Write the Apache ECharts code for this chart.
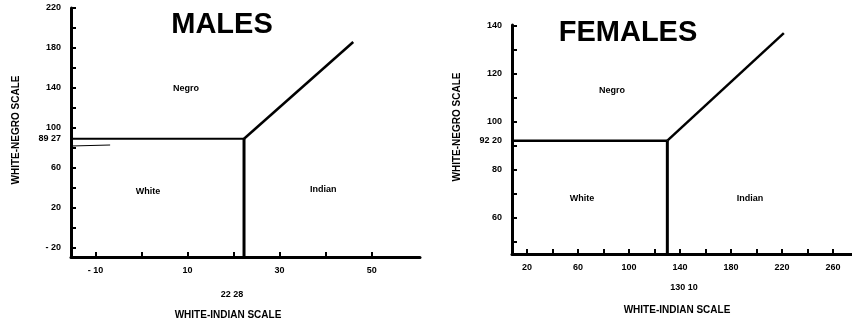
<!DOCTYPE html>
<html>
<head>
<meta charset="utf-8">
<script src="https://cdn.jsdelivr.net/npm/echarts@6/dist/echarts.min.js"></script>
<style>
html, body { margin: 0; padding: 0; background: #fff; }
#main { width: 852px; height: 324px; }
</style>
</head>
<body>
<div id="main"></div>
<script>
// males panel
var maleXTicks = [-10, 0, 10, 20, 30, 40, 50];
var maleXLabels = [-10, 10, 30, 50];
var maleYTicks = [-20, 0, 20, 40, 60, 80, 100, 120, 140, 160, 180, 200, 220];
var maleYLabels = [-20, 20, 60, 100, 140, 180, 220];
var maleCut = [22.28, 89.27];
var maleDiagEnd = [46, 186];
var maleStub = [[-15.3, 82], [-6.8, 83]];
var maleRegions = [['Negro', 9.7, 139], ['White', 1.4, 36], ['Indian', 39.5, 38]];

// females panel
var femaleXTicks = [20, 40, 60, 80, 100, 120, 140, 160, 180, 200, 220, 240, 260];
var femaleXLabels = [20, 60, 100, 140, 180, 220, 260];
var femaleYTicks = [50, 60, 70, 80, 90, 100, 110, 120, 130, 140];
var femaleYLabels = [60, 80, 100, 120, 140];
var femaleCut = [130.10, 92.20];
var femaleDiagEnd = [221.5, 137];
var femaleRegions = [['Negro', 86.6, 113.3], ['White', 63.1, 68.3], ['Indian', 194.9, 68.3]];

var maleRange = { xMin: -15.3, xMax: 60.5, yMin: -29, yMax: 220 };
var femaleRange = { xMin: 8.2, xMax: 275, yMin: 45, yMax: 140.4 };

var FONT = '"Liberation Sans", Arial, sans-serif';

var myChart = echarts.init(document.getElementById('main'));

function fmt(v) {
    if (v === maleCut[0]) return '22 28';
    if (v === maleCut[1]) return '89 27';
    if (v === femaleCut[0]) return '130 10';
    if (v === femaleCut[1]) return '92 20';
    if (v < 0) return '- ' + Math.abs(v);
    return String(v);
}

function makeAxis(type, grid, min, max, ticks, labels) {
    return {
        type: 'value',
        gridIndex: grid,
        min: min,
        max: max,
        axisLine: { show: true, onZero: false, lineStyle: { color: '#000', width: 3 } },
        splitLine: { show: false },
        axisTick: {
            show: true, inside: true, length: 5,
            customValues: ticks,
            lineStyle: { color: '#000', width: 2 }
        },
        axisLabel: {
            customValues: labels,
            formatter: fmt,
            color: '#000',
            fontSize: 9,
            fontWeight: 'bold',
            fontFamily: FONT,
            margin: type === 'x' ? 9 : 10
        }
    };
}

function lineSeries(idx, pts, width) {
    return {
        type: 'line',
        xAxisIndex: idx,
        yAxisIndex: idx,
        data: pts,
        symbol: 'none',
        silent: true,
        animation: false,
        lineStyle: { color: '#000', width: width }
    };
}

function regionSeries(idx, regions) {
    return {
        type: 'scatter',
        xAxisIndex: idx,
        yAxisIndex: idx,
        symbolSize: 0,
        silent: true,
        animation: false,
        itemStyle: { opacity: 1, color: '#000' },
        data: regions.map(function (r) { return { name: r[0], value: [r[1], r[2]] }; }),
        label: {
            show: true, position: 'inside',
            formatter: '{b}',
            color: '#000', opacity: 1, textBorderWidth: 0,
            fontSize: 9, fontWeight: 'bold', fontFamily: FONT
        }
    };
}

function text(x, y, str, size, rotate) {
    return {
        type: 'text',
        x: x, y: y,
        rotation: rotate ? Math.PI / 2 : 0,
        style: {
            text: str, fill: '#000',
            font: 'bold ' + size + 'px ' + FONT,
            align: 'center', verticalAlign: 'middle'
        }
    };
}

var option = {
    backgroundColor: '#fff',
    animation: false,
    grid: [
        { left: 71, top: 8, width: 349, height: 249 },
        { left: 512, top: 25, width: 340, height: 229 }
    ],
    xAxis: [
        makeAxis('x', 0, maleRange.xMin, maleRange.xMax, maleXTicks, maleXLabels),
        makeAxis('x', 1, femaleRange.xMin, femaleRange.xMax, femaleXTicks, femaleXLabels)
    ],
    yAxis: [
        makeAxis('y', 0, maleRange.yMin, maleRange.yMax, maleYTicks, maleYLabels.concat([maleCut[1]])),
        makeAxis('y', 1, femaleRange.yMin, femaleRange.yMax, femaleYTicks, femaleYLabels.concat([femaleCut[1]]))
    ],
    series: [
        lineSeries(0, [[maleRange.xMin, maleCut[1]], maleCut], 2),
        lineSeries(0, [maleCut, [maleCut[0], maleRange.yMin]], 3),
        lineSeries(0, [maleCut, maleDiagEnd], 2.5),
        lineSeries(0, maleStub, 1),
        regionSeries(0, maleRegions),
        lineSeries(1, [[femaleRange.xMin, femaleCut[1]], femaleCut], 2.5),
        lineSeries(1, [femaleCut, [femaleCut[0], femaleRange.yMin]], 3),
        lineSeries(1, [femaleCut, femaleDiagEnd], 2.5),
        regionSeries(1, femaleRegions)
    ],
    graphic: [
        text(222, 25, 'MALES', 29),
        text(628, 33, 'FEMALES', 29),
        text(16, 130, 'WHITE-NEGRO SCALE', 10, true),
        text(457, 127, 'WHITE-NEGRO SCALE', 10, true),
        text(228, 315, 'WHITE-INDIAN SCALE', 10),
        text(677, 310, 'WHITE-INDIAN SCALE', 10),
        text(232, 295, '22 28', 9),
        text(684, 288, '130 10', 9)
    ]
};

myChart.setOption(option);
window.onresize = function () {
    myChart.resize();
};
</script>
</body>
</html>
